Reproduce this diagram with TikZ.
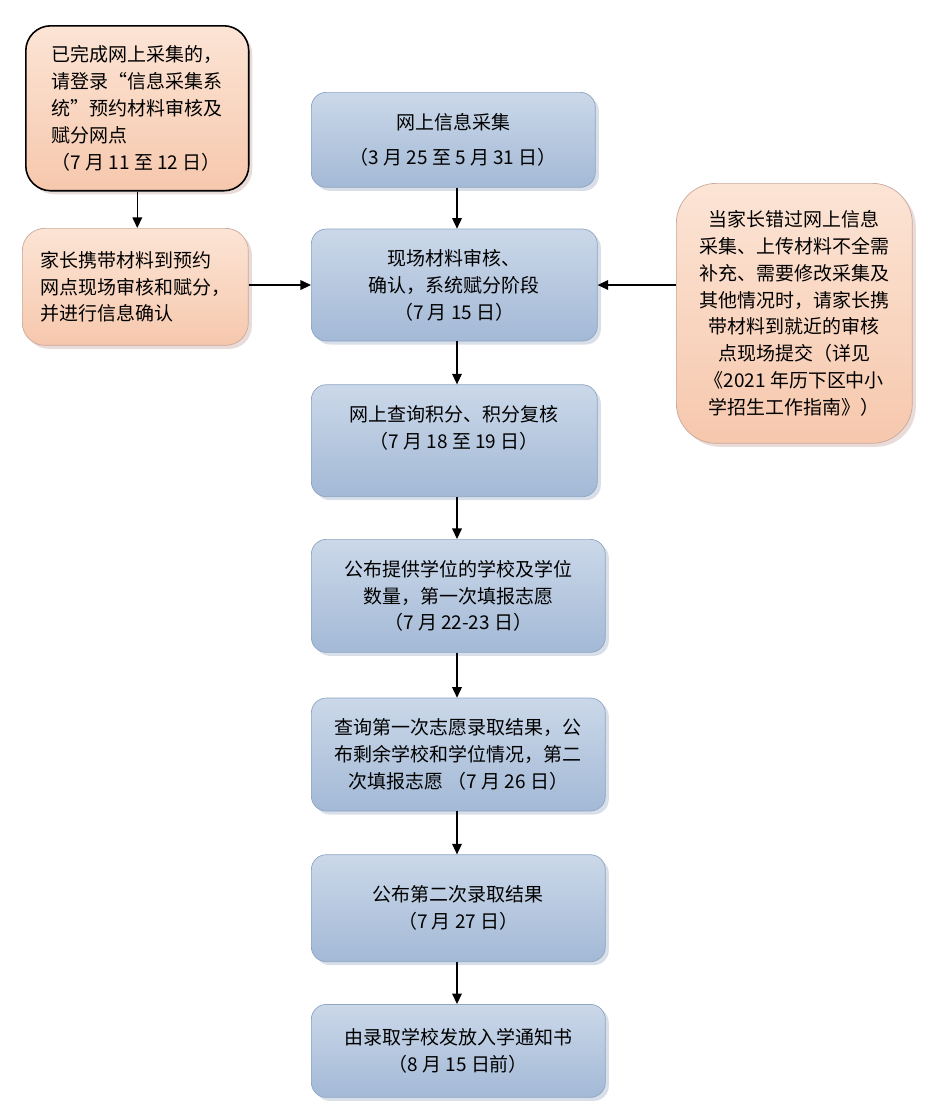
\documentclass[tikz,border=0pt]{standalone}
\usepackage{fontspec}
\setmainfont{Noto Sans CJK SC}
\usepackage{xcolor}
\usetikzlibrary{positioning,arrows.meta,shadows}

\definecolor{bluetop}{HTML}{CBD8E9}
\definecolor{bluemid}{HTML}{E3EAF3}
\definecolor{bluebot}{HTML}{A3B9D6}
\definecolor{blueedge}{HTML}{8FA5C2}
\definecolor{peachtop}{HTML}{FCE4D5}
\definecolor{peachbot}{HTML}{F6C8AD}
\definecolor{peachedge}{HTML}{C9A89D}

\begin{document}
\begin{tikzpicture}[
            x=0.02cm, y=-0.02cm,
            mainbox/.style={rectangle, rounded corners=0.3cm, draw=blueedge, top color=bluetop, middle color=bluemid, bottom color=bluebot,
                drop shadow={shadow xshift=2pt, shadow yshift=-2pt, fill=blueedge!70}, align=center,
                font=\fontsize{10.8}{15.3}\selectfont},
            sidebox/.style={rectangle, rounded corners=0.45cm, draw=peachedge, top color=peachtop, bottom color=peachbot,
                drop shadow={shadow xshift=2pt, shadow yshift=-2pt, fill=peachedge!80}, align=left,
                font=\fontsize{10.8}{15.3}\selectfont},
            flow/.style={-{Triangle[length=6pt,width=5.5pt]}, line width=0.7pt}
        ]
        \useasboundingbox (0,0) rectangle (936,1112);

        % main column
        \node[mainbox, minimum width=5.68cm, minimum height=1.9cm, anchor=north west] (collect) at (311,92)
            {网上信息采集\\[4.5pt]（3 月 25 至 5 月 31 日）};
        \node[mainbox, minimum width=5.72cm, minimum height=2.24cm] (review) [below=0.82cm of collect.south west, anchor=north west]
            {现场材料审核、\\确认，系统赋分阶段\\（7 月 15 日）};
        \node[mainbox, minimum width=5.72cm, minimum height=2.24cm, text depth=16pt] (query) [below=0.86cm of review.south west, anchor=north west]
            {网上查询积分、积分复核\\（7 月 18 至 19 日）};
        \node[mainbox, minimum width=5.88cm, minimum height=2.26cm] (firstwish) [below=0.84cm of query.south west, anchor=north west]
            {公布提供学位的学校及学位\\数量，第一次填报志愿\\（7 月 22-23 日）};
        \node[mainbox, minimum width=5.88cm, minimum height=2.26cm] (secondwish) [below=0.9cm of firstwish.south west, anchor=north west]
            {查询第一次志愿录取结果，公\\布剩余学校和学位情况，第二\\次填报志愿 （7 月 26 日）};
        \node[mainbox, minimum width=5.88cm, minimum height=2.14cm] (result) [below=0.86cm of secondwish.south west, anchor=north west]
            {公布第二次录取结果\\（7 月 27 日）};
        \node[mainbox, minimum width=5.88cm, minimum height=1.86cm] (notice) [below=0.84cm of result.south west, anchor=north west]
            {由录取学校发放入学通知书\\（8 月 15 日前）};
        \coordinate (axis) at (457,0);

        % side boxes
        \node[sidebox, draw=black, line width=0.9pt, drop shadow={opacity=0}, rounded corners=0.5cm,
              minimum width=4.46cm, minimum height=3.3cm, anchor=north west] (booked) at (25,25)
            {已完成网上采集的，\\请登录“信息采集系\\统”预约材料审核及\\赋分网点\\（7 月 11 至 12 日）};
        \node[sidebox, minimum width=4.52cm, minimum height=2.34cm, anchor=north west] (visit) at (22,228)
            {家长携带材料到预约\\网点现场审核和赋分，\\并进行信息确认};
        \node[sidebox, align=center, rounded corners=0.8cm, minimum width=4.72cm, minimum height=5.2cm, anchor=north west] (missed) at (676,183)
            {当家长错过网上信息\\采集、上传材料不全需\\补充、需要修改采集及\\其他情况时，请家长携\\带材料到就近的审核\\点现场提交（详见\\《2021 年历下区中小\\学招生工作指南》）};

        % connectors
        \foreach \a/\b in {collect/review, review/query, query/firstwish, firstwish/secondwish, secondwish/result, result/notice}
            \draw[flow] (axis |- \a.south) -- (axis |- \b.north);
        \draw[flow] (booked.south) -- (booked.south |- visit.north);
        \draw[flow] (visit.east |- review.west) -- (review.west);
        \draw[flow] (missed.west |- review.east) -- (review.east);

    \end{tikzpicture}
\end{document}
